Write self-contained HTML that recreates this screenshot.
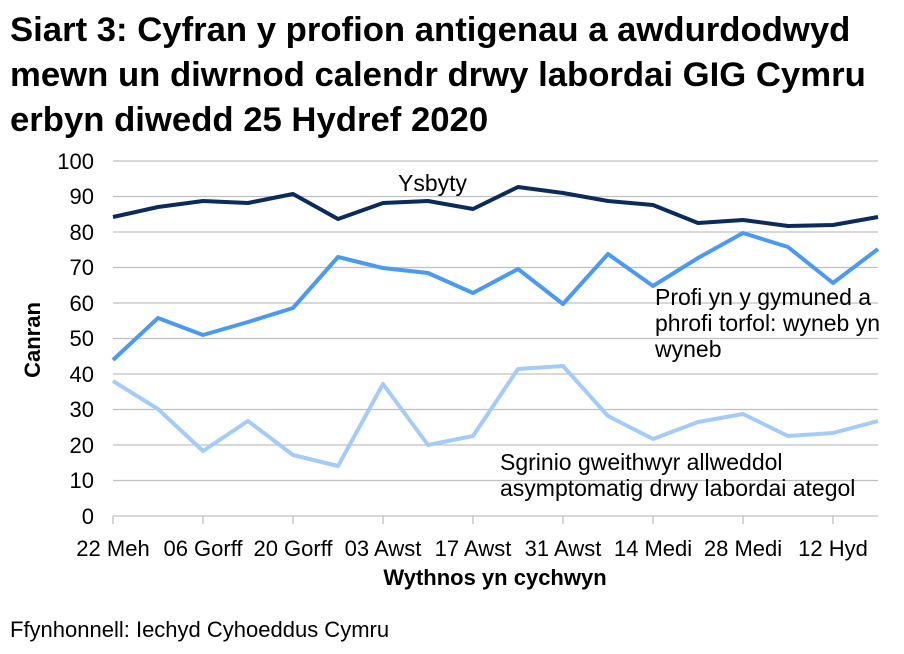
<!DOCTYPE html><html><head><style>body{margin:0;background:#fff}svg{display:block}text{font-family:"Liberation Sans",Arial,sans-serif}</style></head><body>
<svg width="904" height="654" xmlns="http://www.w3.org/2000/svg">
<text x="10" y="41" font-size="34.7" font-weight="bold" fill="#000">Siart 3: Cyfran y profion antigenau a awdurdodwyd</text>
<text x="10" y="86" font-size="34.7" font-weight="bold" fill="#000">mewn un diwrnod calendr drwy labordai GIG Cymru</text>
<text x="10" y="131" font-size="34.7" font-weight="bold" fill="#000">erbyn diwedd 25 Hydref 2020</text>
<g stroke="#c0c0c0" stroke-width="1.3">
<line x1="113" x2="878" y1="161" y2="161"/><line x1="113" x2="878" y1="196.5" y2="196.5"/><line x1="113" x2="878" y1="232" y2="232"/><line x1="113" x2="878" y1="267.5" y2="267.5"/><line x1="113" x2="878" y1="303" y2="303"/><line x1="113" x2="878" y1="338.5" y2="338.5"/><line x1="113" x2="878" y1="374" y2="374"/><line x1="113" x2="878" y1="409.5" y2="409.5"/><line x1="113" x2="878" y1="445" y2="445"/><line x1="113" x2="878" y1="480.5" y2="480.5"/><line x1="113" x2="878" y1="516" y2="516"/>
<line x1="113" x2="113" y1="516" y2="524"/><line x1="203" x2="203" y1="516" y2="524"/><line x1="293" x2="293" y1="516" y2="524"/><line x1="383" x2="383" y1="516" y2="524"/><line x1="473" x2="473" y1="516" y2="524"/><line x1="563" x2="563" y1="516" y2="524"/><line x1="653" x2="653" y1="516" y2="524"/><line x1="743" x2="743" y1="516" y2="524"/><line x1="833" x2="833" y1="516" y2="524"/>
</g>
<g font-size="22" fill="#000" text-anchor="end">
<text x="94" y="169">100</text><text x="94" y="204">90</text><text x="94" y="240">80</text><text x="94" y="275">70</text><text x="94" y="311">60</text><text x="94" y="346">50</text><text x="94" y="382">40</text><text x="94" y="417">30</text><text x="94" y="453">20</text><text x="94" y="488">10</text><text x="94" y="524">0</text>
</g>
<g font-size="22" fill="#000" text-anchor="middle">
<text x="113" y="556">22 Meh</text><text x="203" y="556">06 Gorff</text><text x="293" y="556">20 Gorff</text><text x="383" y="556">03 Awst</text><text x="473" y="556">17 Awst</text><text x="563" y="556">31 Awst</text><text x="653" y="556">14 Medi</text><text x="743" y="556">28 Medi</text><text x="833" y="556">12 Hyd</text>
</g>
<text x="495" y="585" font-size="22" font-weight="bold" text-anchor="middle">Wythnos yn cychwyn</text>
<text transform="translate(40,340) rotate(-90)" font-size="22" font-weight="bold" text-anchor="middle">Canran</text>
<text x="10" y="637" font-size="22">Ffynhonnell: Iechyd Cyhoeddus Cymru</text>
<g fill="none" stroke-width="4" stroke-linejoin="round">
<polyline stroke="#a3ccfa" points="113,381 158,409 203,451 248,421 293,455 338,466 383,384 428,445 473,436 518,369 563,366 608,416 653,439 698,422 743,414 788,436 833,433 878,421"/>
<polyline stroke="#4a9af5" points="113,360 158,318 203,335 248,322 293,308 338,257 383,268 428,273 473,293 518,269 563,304 608,254 653,286 698,258 743,233 788,247 833,283 878,249"/>
<polyline stroke="#0a2b5c" points="113,217 158,207 203,201 248,203 293,194 338,219 383,203 428,201 473,209 518,187 563,193 608,201 653,205 698,223 743,220 788,226 833,225 878,217"/>
</g>
<g font-size="23" fill="#000">
<text x="398" y="191">Ysbyty</text>
<text x="655" y="305">Profi yn y gymuned a</text><text x="655" y="331">phrofi torfol: wyneb yn</text><text x="655" y="357">wyneb</text>
<text x="500" y="470">Sgrinio gweithwyr allweddol</text><text x="500" y="496">asymptomatig drwy labordai ategol</text>
</g>
</svg></body></html>
